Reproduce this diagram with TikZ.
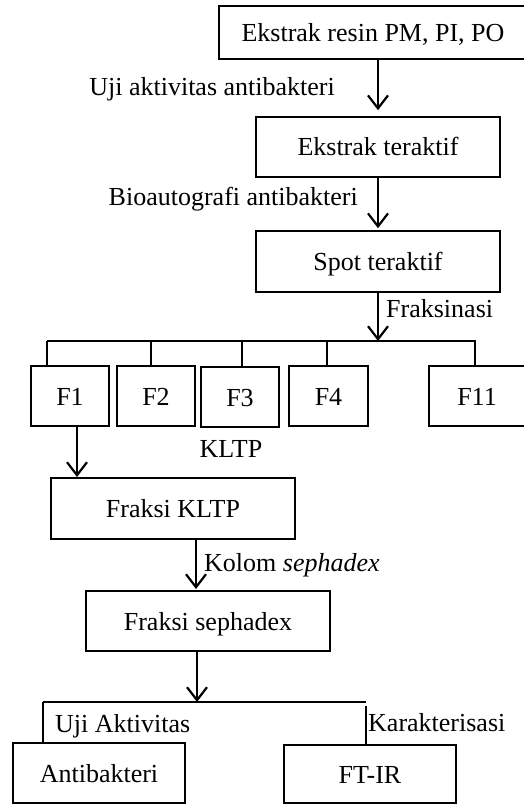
\documentclass[tikz,border=0pt]{standalone}
\usepackage{fontspec}
\setmainfont{Liberation Serif}
\usetikzlibrary{arrows.meta}
\begin{document}
\begin{tikzpicture}[x=1pt,y=-1pt,
  font=\fontsize{26}{30}\selectfont,
  box/.style={draw,line width=1.6pt,inner sep=0pt,text height=20pt,text depth=2pt},
  lbl/.style={inner sep=0pt},
  arr/.style={line width=2.4pt,-{Straight Barb[length=13pt,width=20pt,line width=2.2pt]}},
  bus/.style={line width=2.2pt}]
\useasboundingbox (0,0) rectangle (523,805);
% boxes
\node[box,minimum width=308pt,minimum height=53pt] (b1) at (373,32.5) {Ekstrak resin PM, PI, PO};
\node[box,minimum width=244pt,minimum height=60pt] (b2) at (378,147) {Ekstrak teraktif};
\node[box,minimum width=244pt,minimum height=61pt] (b3) at (378,261.5) {Spot teraktif};
\node[box,minimum width=78pt,minimum height=60pt] (f1) at (70,396) {F1};
\node[box,minimum width=78pt,minimum height=60pt] (f2) at (156,396) {F2};
\node[box,minimum width=78pt,minimum height=60pt] (f3) at (240,397) {F3};
\node[box,minimum width=79pt,minimum height=60pt] (f4) at (328.5,396) {F4};
\node[box,minimum width=96pt,minimum height=60pt] (f11) at (477,396) {F11};
\node[box,minimum width=244pt,minimum height=61pt] (k) at (173,508.5) {Fraksi KLTP};
\node[box,minimum width=244pt,minimum height=60pt] (s) at (208,621) {Fraksi sephadex};
\node[box,minimum width=172pt,minimum height=60pt] (a) at (99,773) {Antibakteri};
\node[box,minimum width=172pt,minimum height=58pt] (ir) at (370,774) {FT-IR};
% labels
\node[lbl,anchor=base east] (l1) at (335,96) {Uji aktivitas antibakteri};
\node[lbl,anchor=base east] (l2) at (358,205) {Bioautografi antibakteri};
\node[lbl,anchor=base west] (l3) at (386,317) {Fraksinasi};
\node[lbl,anchor=base] (l4) at (231,457) {KLTP};
\node[lbl,anchor=base west] (l5) at (204,571) {Kolom \textit{sephadex}};
\node[lbl,anchor=base west] (l6) at (55,732) {Uji Aktivitas};
\node[lbl,anchor=base west] (l7) at (368,731) {Karakterisasi};
% coordinates
\coordinate (busc) at (378,341);
\coordinate (busl) at (47,341);
\coordinate (busr) at (476,341);
\coordinate (d2) at (151,341);
\coordinate (d3) at (242,341);
\coordinate (d4) at (327,341);
\coordinate (d11) at (475,341);
\coordinate (k1) at (77,477);
\coordinate (s1) at (196,589);
\coordinate (splc) at (197,702);
\coordinate (spll) at (43,702);
\coordinate (splr) at (366,702);
\coordinate (splr2) at (366,706);
% connectors
\draw[arr,shorten >=6pt] (b2.north |- b1.south) -- (b2.north);
\draw[arr,shorten >=2pt] (b2.south) -- (b3.north);
\draw[arr] (b3.south) -- (busc);
\draw[bus] (busl) -- (busr);
\draw[bus] (busl) -- (busl |- f1.north);
\draw[bus] (d2) -- (d2 |- f2.north);
\draw[bus] (d3) -- (d3 |- f3.north);
\draw[bus] (d4) -- (d4 |- f4.north);
\draw[bus] (d11) -- (d11 |- f11.north);
\draw[arr] (k1 |- f1.south) -- (k1);
\draw[arr] (s1 |- k.south) -- (s1);
\draw[arr] (splc |- s.south) -- (splc);
\draw[bus] (spll) -- (splr);
\draw[bus] (spll) -- (spll |- a.north);
\draw[bus] (splr2) -- (splr2 |- ir.north);
\end{tikzpicture}
\end{document}
